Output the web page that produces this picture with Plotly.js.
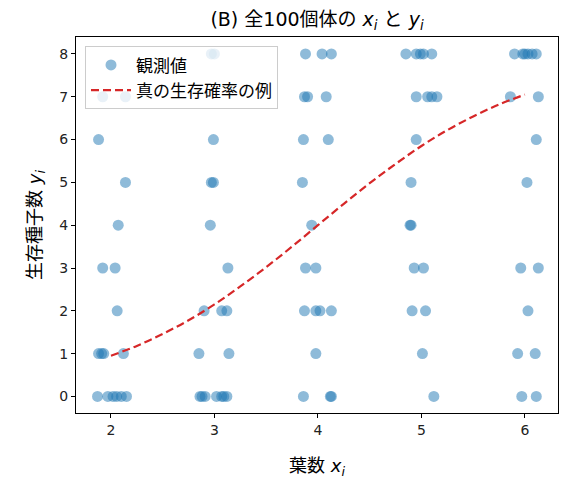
<!DOCTYPE html>
<html>
<head>
<meta charset="utf-8">
<script src="https://cdn.plot.ly/plotly-3.0.1.min.js"></script>
<style>html,body{margin:0;padding:0;background:#fff;}#chart{width:576px;height:484px;}</style>
</head>
<body>
<div id="chart"></div>
<script>
// observed data: leaf count x_i and surviving seeds y_i
const leafX = [
  1.87, 1.97, 2.02, 2.055, 2.10, 2.15, 1.88, 1.91, 1.93, 2.12, 2.06, 1.92, 2.04, 2.07, 2.14, 1.88, 1.92, 2.14,
  2.86, 2.88, 2.91, 3.02, 3.07, 3.09, 3.12, 2.85, 3.14, 2.90, 3.07, 3.12, 3.13, 2.96, 2.97, 2.99, 2.99, 2.97, 3.00,
  3.86, 4.12, 4.13, 3.98, 3.87, 3.98, 4.02, 4.13, 3.88, 3.98, 3.94, 3.85, 3.86, 4.10, 3.87, 3.90, 4.08, 3.88, 4.04, 4.13,
  5.12, 5.01, 4.91, 5.04, 4.93, 5.02, 4.89, 4.90, 4.90, 4.95, 4.95, 5.06, 5.10, 5.15, 4.85, 4.95, 4.99, 5.02, 5.10,
  5.97, 6.11, 5.93, 6.10, 6.03, 5.96, 6.13, 6.02, 6.11, 5.86, 6.13, 5.90, 5.98, 6.00, 6.03, 6.07, 6.11
];
const seedsY = [
  0, 0, 0, 0, 0, 0, 1, 1, 1, 1, 2, 3, 3, 4, 5, 6, 7, 7,
  0, 0, 0, 0, 0, 0, 0, 1, 1, 2, 2, 2, 3, 4, 5, 5, 6, 8, 8,
  0, 0, 0, 1, 2, 2, 2, 2, 3, 3, 4, 5, 6, 6, 7, 7, 7, 8, 8, 8,
  0, 1, 2, 2, 3, 3, 4, 4, 5, 6, 7, 7, 7, 7, 8, 8, 8, 8, 8,
  0, 0, 1, 1, 2, 3, 3, 5, 6, 7, 7, 8, 8, 8, 8, 8, 8
];
// example true survival curve (expected seeds)
const curveX = [2, 2.25, 2.5, 2.75, 3, 3.25, 3.5, 3.75, 4, 4.25, 4.5, 4.75, 5, 5.25, 5.5, 5.75, 6];
const curveY = [0.95, 1.18, 1.46, 1.78, 2.15, 2.57, 3.02, 3.50, 4.00, 4.50, 4.98, 5.43, 5.85, 6.22, 6.54, 6.82, 7.05];
const xTicks = [2, 3, 4, 5, 6];
const yTicks = [0, 1, 2, 3, 4, 5, 6, 7, 8];

const FONT = "DejaVu Sans, 'Noto Sans CJK JP', sans-serif";

const traces = [
  {
    type: 'scatter', mode: 'markers', x: leafX, y: seedsY, name: '観測値',
    marker: {color: '#1f77b4', size: 11, opacity: 0.5, line: {width: 0}}
  },
  {
    type: 'scatter', mode: 'lines', x: curveX, y: curveY, name: '真の生存確率の例',
    line: {color: '#d62728', width: 2.2, dash: '8px,4px', shape: 'spline'}
  }
];

const axisCommon = {
  showline: true, mirror: true, linecolor: '#000', linewidth: 1,
  ticks: 'outside', ticklen: 4, tickwidth: 1, tickcolor: '#000',
  showgrid: false, zeroline: false,
  tickfont: {family: FONT, size: 14, color: '#222'}
};

const layout = {
  width: 576, height: 484,
  margin: {l: 76, r: 18, t: 36.5, b: 70.7},
  paper_bgcolor: '#fff', plot_bgcolor: '#fff',
  font: {family: FONT, color: '#000'},
  title: {
    text: '(B) 全100個体の <i>x<sub>i</sub></i> と <i>y<sub>i</sub></i>',
    font: {family: FONT, size: 19, color: '#000'},
    xref: 'paper', x: 0.5, xanchor: 'center',
    yref: 'container', y: 1 - 19 / 484, yanchor: 'middle'
  },
  xaxis: Object.assign({}, axisCommon, {
    range: [1.662, 6.32], tickvals: xTicks, ticktext: xTicks.map(String),
    title: {text: '葉数 <i>x<sub>i</sub></i>', font: {family: FONT, size: 18, color: '#000'}, standoff: 22}
  }),
  yaxis: Object.assign({}, axisCommon, {
    range: [-0.387, 8.396], tickvals: yTicks, ticktext: yTicks.map(String),
    title: {text: '生存種子数 <i>y<sub>i</sub></i>', font: {family: FONT, size: 18, color: '#000'}, standoff: 12}
  }),
  showlegend: true,
  legend: {
    x: 0.0187, y: 0.975, xanchor: 'left', yanchor: 'top',
    bgcolor: 'rgba(255,255,255,0.8)', bordercolor: '#cccccc', borderwidth: 1,
    itemwidth: 40, tracegroupgap: 4,
    font: {family: FONT, size: 17, color: '#000'}
  }
};

Plotly.newPlot('chart', traces, layout, {displayModeBar: false, staticPlot: true});
</script>
</body>
</html>
